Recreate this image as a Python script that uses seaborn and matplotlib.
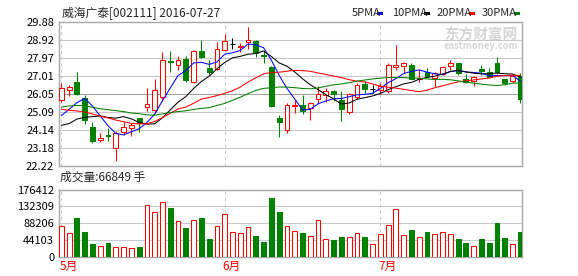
import matplotlib
matplotlib.use("Agg")
import matplotlib.pyplot as plt
import matplotlib.transforms as mtransforms
from matplotlib.patches import Rectangle
import numpy as np
import pandas as pd
import seaborn as sns

# ---------------- data ----------------
stock_title = "威海广泰[002111] 2016-07-27"
volume_label = "成交量:66849 手"
ma_labels = ["5PMA", "10PMA", "20PMA", "30PMA"]
ma_windows = [5, 10, 20, 30]
ma_colors = ["#0000ff", "#000000", "#ff0000", "#008000"]
month_labels = ["5月", "6月", "7月"]
month_start_index = [0, 21, 41]
price_ticks = [22.22, 23.18, 24.14, 25.09, 26.05, 27.01, 27.97, 28.92, 29.88]
price_tick_labels = ["22.22", "23.18", "24.14", "25.09", "26.05", "27.01", "27.97", "28.92", "29.88"]
volume_ticks = [0, 44103, 88206, 132309, 176412]
volume_tick_labels = ["0", "44103", "88206", "132309", "176412"]

# closes of the 29 sessions before the first visible one (feed the moving averages)
prior_closes = [24.59, 25.15, 25.53, 25.65, 26.09, 25.32, 25.48, 25.76, 26.77, 25.46,
                27.39, 26.85, 25.63, 25.75, 26.09, 25.62, 26.18, 26.06, 26.17, 24.96,
                25.49, 23.65, 23.73, 23.15, 23.28, 24.69, 24.30, 23.48, 25.56]

opens = [25.70, 26.23, 26.67, 25.80, 24.28, 23.57, 23.85, 23.14, 24.03, 24.24,
         24.76, 25.32, 25.18, 25.86, 27.77, 27.56, 27.88, 26.69, 28.32, 27.40,
         27.35, 28.36, 28.69, 28.55, 28.82, 28.85, 28.13, 27.47, 24.76, 24.10,
         25.38, 25.43, 25.27, 25.79, 26.00, 26.19, 25.72, 25.10, 25.87, 26.57,
         26.30, 26.23, 26.19, 27.45, 27.51, 27.58, 26.81, 27.22, 26.87, 27.08,
         27.51, 27.68, 26.83, 26.71, 27.35, 27.19, 27.68, 26.81, 26.74, 27.01]
highs = [26.64, 26.51, 27.22, 25.98, 24.54, 23.94, 24.24, 24.07, 24.56, 24.51,
         24.77, 26.35, 26.81, 28.27, 28.32, 28.07, 28.06, 28.37, 28.91, 27.84,
         28.80, 29.23, 28.99, 28.73, 29.62, 28.91, 28.34, 27.50, 24.92, 25.54,
         25.72, 25.98, 25.59, 26.48, 26.34, 26.25, 26.19, 26.07, 26.60, 26.74,
         26.50, 26.64, 27.67, 28.64, 27.72, 27.67, 27.35, 27.43, 27.22, 27.54,
         27.84, 27.70, 27.08, 26.99, 27.58, 27.40, 28.02, 26.83, 27.04, 27.17]
lows = [25.60, 25.93, 26.00, 24.42, 23.45, 23.50, 23.55, 22.49, 23.85, 23.80,
        24.03, 25.15, 25.04, 25.71, 27.20, 27.31, 26.69, 26.60, 27.95, 27.05,
        27.31, 28.32, 28.41, 28.29, 28.41, 27.98, 27.70, 25.35, 23.76, 23.98,
        25.04, 24.97, 24.65, 25.54, 25.63, 25.64, 24.62, 24.97, 25.79, 26.07,
        26.07, 26.03, 26.10, 27.33, 27.13, 26.81, 26.69, 26.96, 26.42, 27.04,
        27.31, 27.04, 26.60, 26.48, 27.04, 26.92, 27.10, 26.53, 26.60, 25.57]
closes = [26.37, 26.39, 26.05, 24.63, 23.55, 23.69, 23.82, 23.98, 24.26, 24.37,
          24.49, 25.48, 26.23, 27.82, 27.74, 27.82, 26.76, 28.30, 27.98, 27.19,
          28.45, 28.83, 28.69, 28.60, 28.89, 28.23, 28.06, 25.38, 24.56, 25.43,
          25.43, 25.15, 25.54, 26.02, 26.18, 26.02, 25.22, 26.03, 26.50, 26.32,
          26.30, 26.48, 27.58, 27.58, 27.68, 26.85, 26.87, 27.01, 27.13, 27.45,
          27.68, 27.13, 26.67, 26.96, 27.27, 26.96, 27.22, 26.64, 26.99, 25.79]
volumes = [81250, 63000, 103000, 66400, 35000, 28800, 37600, 26200, 26200, 23600,
           27000, 136300, 118000, 144200, 129300, 94400, 76900, 97000, 103000, 48000,
           81250, 112700, 66400, 63700, 78600, 55900, 41100, 155500, 118800, 81250,
           68200, 63700, 55000, 97000, 47200, 45400, 53300, 52400, 63000, 53300,
           34100, 60300, 83900, 125800, 57700, 71600, 52400, 66400, 60300, 65500,
           60300, 47200, 37600, 28800, 47200, 37600, 90000, 50700, 34100, 66849]

# ---------------- style ----------------
sns.set_theme(style="white")
plt.rcParams["font.family"] = ["Noto Sans CJK SC", "DejaVu Sans"]
plt.rcParams["axes.unicode_minus"] = False

RED = "#ff0000"
GREEN = "#008000"
GRID = "#c8c8c8"
SPINE = "#a8a8a8"
W, H = 578, 276
LW = 0.75

df = pd.DataFrame({"idx": np.arange(len(closes)), "open": opens, "high": highs,
                   "low": lows, "close": closes, "volume": volumes})
all_close = pd.Series(prior_closes + closes)
for w in ma_windows:
    df[f"ma{w}"] = all_close.rolling(w).mean().iloc[len(prior_closes):].to_numpy()

up = df[df.close > df.open]
down = df[df.close < df.open]
flat = df[df.close == df.open]
vol_up = df[df.close >= df.open]
vol_down = df[df.close < df.open]

fig = plt.figure(figsize=(W / 100, H / 100), dpi=100)
fig.patch.set_facecolor("white")

def fbox(x0, y0, x1, y1):
    return [x0 / W, 1 - y1 / H, (x1 - x0) / W, (y1 - y0) / H]

ax = fig.add_axes(fbox(59, 21.7, 522.3, 165.7))
axv = fig.add_axes(fbox(59, 189.5, 522.3, 257.3))

XLIM = (-0.3, 59.25)
BW = 0.62

for a in (ax, axv):
    a.set_facecolor("white")
    a.set_xlim(*XLIM)
    for s in a.spines.values():
        s.set_color(SPINE)
        s.set_linewidth(1.0)
        s.set_visible(True)
    a.set_xticks([])
    a.tick_params(axis="y", length=0, pad=3.5, labelsize=8, colors="black")
    for m in month_start_index:
        a.axvline(m, color=GRID, lw=LW, ls=(0, (3, 3)), zorder=0)

# ---- price panel ----
ax.set_ylim(price_ticks[0], price_ticks[-1])
ax.set_yticks(price_ticks)
ax.set_yticklabels(price_tick_labels)
for t in price_ticks[1:-1]:
    ax.axhline(t, color="#a0a0a0" if t == 26.05 else GRID, lw=LW, zorder=0)

ax.vlines(up.idx, up.low, up.high, color=RED, lw=LW, zorder=2)
ax.vlines(down.idx, down.low, down.high, color=GREEN, lw=LW, zorder=2)
ax.vlines(flat.idx, flat.low, flat.high, color="black", lw=LW, zorder=2)
ax.bar(up.idx, up.close - up.open, bottom=up.open, width=BW, facecolor="white",
       edgecolor=RED, linewidth=LW, zorder=3)
ax.bar(down.idx, down.open - down.close, bottom=down.close, width=BW, facecolor=GREEN,
       edgecolor=GREEN, linewidth=LW, zorder=3)
ax.hlines(flat.open, flat.idx - BW / 2, flat.idx + BW / 2, color="black", lw=LW, zorder=3)

for w, c in zip(ma_windows, ma_colors):
    sns.lineplot(data=df, x="idx", y=f"ma{w}", ax=ax, color=c, lw=LW, zorder=4)
ax.set_xlabel("")
ax.set_ylabel("")
ax.set_xlim(*XLIM)

# ---- volume panel ----
axv.set_ylim(volume_ticks[0], volume_ticks[-1])
axv.set_yticks(volume_ticks)
axv.set_yticklabels(volume_tick_labels)
for t in volume_ticks[1:-1]:
    axv.axhline(t, color=GRID, lw=LW, zorder=0)
axv.bar(vol_up.idx, vol_up.volume, width=BW, facecolor="white", edgecolor=RED,
        linewidth=LW, zorder=3)
axv.bar(vol_down.idx, vol_down.volume, width=BW, facecolor=GREEN, edgecolor=GREEN,
        linewidth=LW, zorder=3)
axv.set_xlim(*XLIM)

trans = mtransforms.blended_transform_factory(axv.transData, axv.transAxes)
for lab, m in zip(month_labels, month_start_index):
    axv.text(m - 0.25, -0.14, lab, transform=trans, ha="left", va="center",
             color=RED, fontsize=8.5)

# ---- texts ----
fig.text(62 / W, 1 - 13 / H, stock_title, ha="left", va="center", fontsize=8.5)
fig.text(60 / W, 1 - 177 / H, volume_label, ha="left", va="center", fontsize=8.5)

leg_x = [351.7, 391.7, 436.7, 481.7]
sq_x = [377.3, 424.0, 469.3, 514.0]
for lab, c, lx, sx in zip(ma_labels, ma_colors, leg_x, sq_x):
    fig.text(lx / W, 1 - 13 / H, lab, ha="left", va="center", fontsize=8.0)
    fig.patches.append(Rectangle((sx / W, 1 - 15.2 / H), 5.8 / W, 3.2 / H,
                                 transform=fig.transFigure, facecolor=c,
                                 edgecolor="none"))

# watermark
fig.text(481 / W, 1 - 34.5 / H, "东方财富网", ha="center", va="center",
         fontsize=10.5, fontweight="bold", color="#d6d6d6")
fig.text(481 / W, 1 - 46 / H, "eastmoney.com", ha="center", va="center",
         fontsize=6.8, fontweight="bold", color="#d6d6d6")

fig.savefig("out.png", dpi=100, facecolor="white")
